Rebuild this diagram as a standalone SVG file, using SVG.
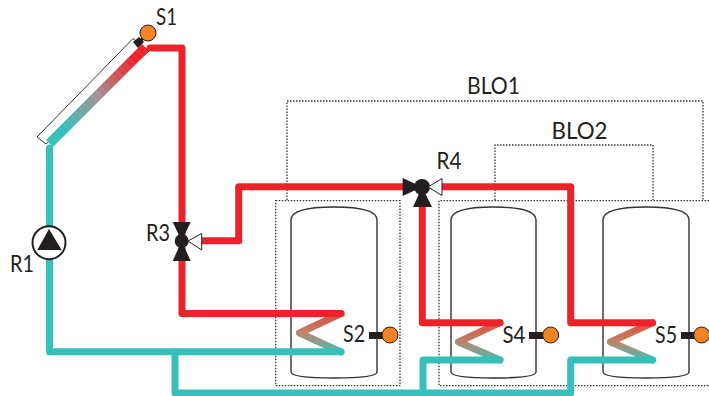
<svg xmlns="http://www.w3.org/2000/svg" width="709" height="396" viewBox="0 0 709 396">
<style>
text{font-family:"Lato","Liberation Sans",sans-serif;font-size:23px;fill:#231f20}
.red,.teal,.coil{fill:none;stroke-width:7;stroke-linejoin:round;stroke-linecap:round}
.red{stroke:#ee2229}.teal{stroke:#37bfbc}
.dot{fill:none;stroke:#333;stroke-width:1.3;stroke-dasharray:1.5 1.5}
.tank{fill:none;stroke:#333;stroke-width:1.4}
.sensor{fill:#f58220;stroke:#231f20;stroke-width:1}
.stem,.blk{fill:#231f20}
.wht{fill:#fff;stroke:#231f20;stroke-width:1}
</style>
<defs>
<linearGradient id="coilG" x1="0" y1="0" x2="0" y2="1"><stop offset="0" stop-color="#e04a3a"/><stop offset="0.5" stop-color="#bd8568"/><stop offset="1" stop-color="#4dbcb2"/></linearGradient>
<linearGradient id="colG" gradientUnits="userSpaceOnUse" x1="145" y1="48" x2="49" y2="144"><stop offset="0.12" stop-color="#ee2229"/><stop offset="0.5" stop-color="#a09494"/><stop offset="0.85" stop-color="#37bfbc"/></linearGradient>
</defs>
<g id="blocks">
<path class="dot" d="M287 200V101H703V200"/>
<path class="dot" d="M495 200V145H653V200"/>
</g>
<g id="zones">
<rect class="dot" x="275.700" y="200.700" width="124.300" height="185"/>
<path class="dot" d="M709 200.700H439V385.700H709"/>
</g>
<g id="tanks">
<path id="tank-a" class="tank" d="M291 220V372Q291 378 334 378Q377 378 377 372V220Q377 207 334 207Q291 207 291 220Z"/>
<path id="tank-b" class="tank" d="M451 220V372Q451 378 493.500 378Q536 378 536 372V220Q536 207 493.500 207Q451 207 451 220Z"/>
<path id="tank-c" class="tank" d="M603 220V372Q603 378 646 378Q689 378 689 372V220Q689 207 646 207Q603 207 603 220Z"/>
</g>
<g id="connectors">
<polyline class="coil" stroke="url(#coilG)" points="341,313.500 299.500,333 341,352"/>
<polyline class="coil" stroke="url(#coilG)" points="500,322.700 458.500,342 500,360"/>
<polyline class="coil" stroke="url(#coilG)" points="652.500,322.700 610.500,342 652.500,360"/>
<path class="red" d="M150 48H182V313.500H341"/>
<path class="red" d="M200 240.700H238.700V186.700H410"/>
<path class="red" d="M442 186.700H570.700V322.700H652.500"/>
<path class="red" d="M422.300 205V322.700H500"/>
<path class="teal" d="M49.500 148V351.700H341"/>
<path class="teal" d="M175 351.700V393H570.700V360H652.500"/>
<path class="teal" d="M423 393V360H500"/>
</g>
<g id="collector">
<polygon points="37,137 133,38.500 149,51 46,144" fill="#fff" stroke="#333" stroke-width="1"/>
<polygon points="46,140 142,44 149,51 53,147" fill="url(#colG)"/>
<line x1="49.500" y1="143.500" x2="145.500" y2="47.500" stroke="#fff" stroke-opacity=".14" stroke-width="9.500" stroke-dasharray=".8 5"/>
<polygon class="stem" points="133,42 139,37 144,42 138,48"/>
</g>
<g id="S1"><line x1="140" y1="41" x2="146" y2="36" stroke="#231f20" stroke-width="3"/><circle class="sensor" cx="148" cy="33" r="8"/><text x="156" y="25" textLength="21" lengthAdjust="spacingAndGlyphs">S1</text></g>
<g id="R1">
<circle cx="49" cy="242.700" r="16.500" fill="#fff" stroke="#231f20" stroke-width="2"/>
<polygon class="blk" points="49,229 61.700,250 37.300,250"/>
<text x="10" y="271.500" textLength="24" lengthAdjust="spacingAndGlyphs">R1</text>
</g>
<g id="R3">
<polygon class="blk" points="172.700,222 190.700,222 181.700,241 190.700,261 172.700,261 181.700,241"/>
<circle class="blk" cx="181.700" cy="241" r="7"/>
<polygon class="wht" points="188,241 201.700,233.500 201.700,250"/>
<text x="146" y="240.700" textLength="24" lengthAdjust="spacingAndGlyphs">R3</text>
</g>
<g id="R4">
<polygon class="blk" points="402.700,178 402.700,196 422,187"/>
<polygon class="blk" points="413,207 432,207 422,187"/>
<circle class="blk" cx="422" cy="187" r="8"/>
<polygon class="wht" points="428,187 442,178.500 442,195.500"/>
<text x="436.500" y="169" textLength="25" lengthAdjust="spacingAndGlyphs">R4</text>
</g>
<g id="BLO1-label"><text x="467" y="94" textLength="53" lengthAdjust="spacingAndGlyphs">BLO1</text></g>
<g id="BLO2-label"><text x="551.500" y="139" textLength="56" lengthAdjust="spacingAndGlyphs">BLO2</text></g>
<g id="S2"><rect class="stem" x="369" y="332" width="14" height="7"/><circle class="sensor" cx="390" cy="335" r="8"/><text x="343" y="342" textLength="22" lengthAdjust="spacingAndGlyphs">S2</text></g>
<g id="S4"><rect class="stem" x="529" y="332" width="14" height="7"/><circle class="sensor" cx="550.700" cy="335" r="8"/><text x="502.500" y="343" textLength="23" lengthAdjust="spacingAndGlyphs">S4</text></g>
<g id="S5"><rect class="stem" x="681" y="332" width="14" height="7"/><circle class="sensor" cx="701.700" cy="335" r="8"/><text x="655" y="343" textLength="22" lengthAdjust="spacingAndGlyphs">S5</text></g>
</svg>
